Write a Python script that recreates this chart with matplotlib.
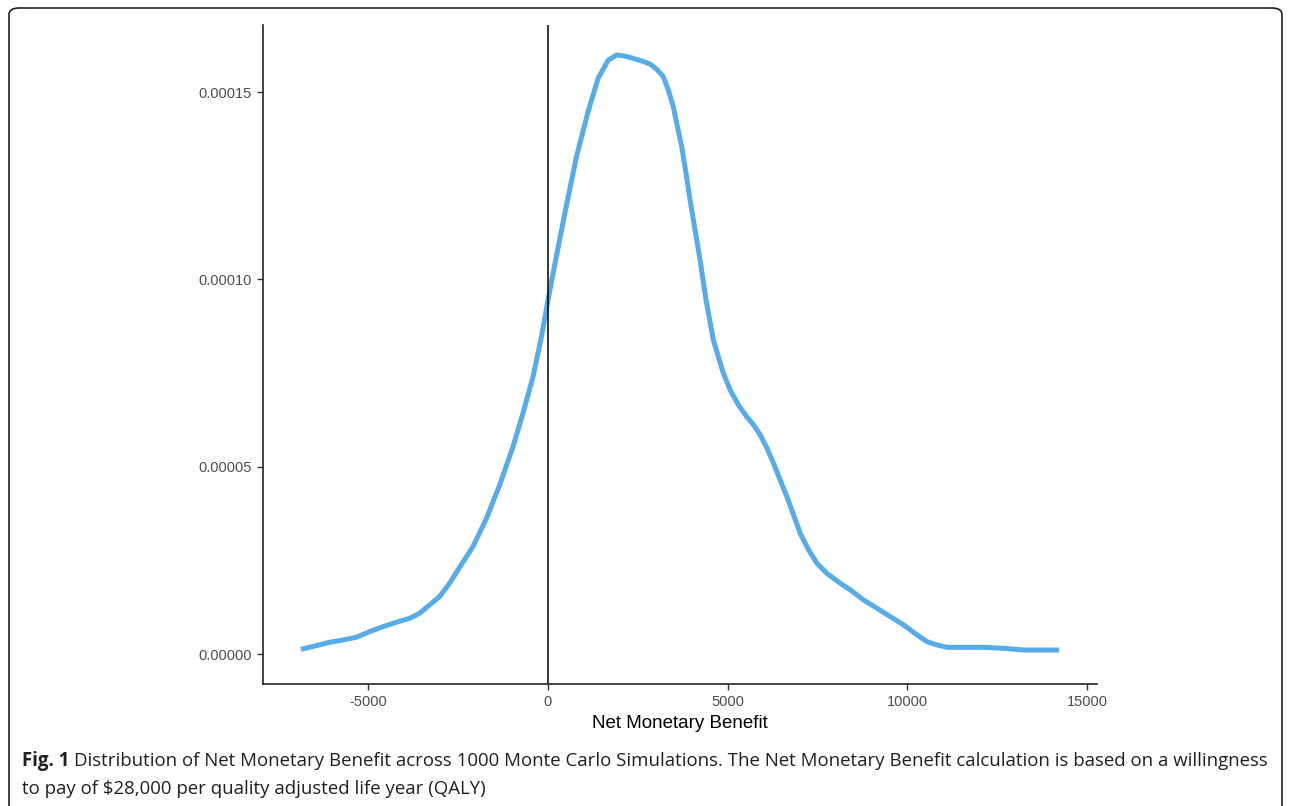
import matplotlib
matplotlib.use("Agg")
import matplotlib.pyplot as plt
from matplotlib.patches import FancyBboxPatch

# Data (density of Net Monetary Benefit)
nmb = [-6861, -6443, -6072, -5702, -5329, -4958, -4588, -4214, -3844, -3565,
       -3287, -3008, -2730, -2451, -2081, -1708, -1337, -967, -688, -409,
       -175, 8, 148, 474, 800, 1123, 1401, 1680, 1914, 2145, 2376, 2610,
       2841, 3028, 3212, 3351, 3490, 3585, 3724, 3844, 3955, 4095, 4234,
       4400, 4604, 4883, 5070, 5301, 5535, 5719, 5905, 6092, 6276, 6462,
       6649, 6833, 7019, 7251, 7485, 7763, 8134, 8412, 8783, 9156, 9527,
       9897, 10270, 10549, 10827, 11106, 11569, 12125, 12683, 13240, 14214]
density_e5 = [0.125, 0.222, 0.312, 0.374, 0.446, 0.595, 0.729, 0.846, 0.953,
              1.087, 1.308, 1.53, 1.887, 2.315, 2.865, 3.61, 4.51, 5.53,
              6.43, 7.40, 8.47, 9.45, 10.16, 11.76, 13.28, 14.48, 15.37,
              15.85, 15.99, 15.96, 15.90, 15.83, 15.75, 15.61, 15.41, 15.06,
              14.61, 14.17, 13.54, 12.83, 12.12, 11.32, 10.52, 9.45, 8.38,
              7.49, 7.05, 6.65, 6.33, 6.12, 5.85, 5.50, 5.09, 4.645, 4.20,
              3.71, 3.22, 2.78, 2.42, 2.15, 1.887, 1.71, 1.44, 1.22, 0.996,
              0.774, 0.507, 0.328, 0.24, 0.179, 0.179, 0.179, 0.152, 0.107,
              0.107]
density = [v * 1e-5 for v in density_e5]

x_ticks = [-5000, 0, 5000, 10000, 15000]
x_tick_labels = ["-5000", "0", "5000", "10000", "15000"]
y_ticks = [0.0, 0.00005, 0.00010, 0.00015]
y_tick_labels = ["0.00000", "0.00005", "0.00010", "0.00015"]

W, H = 1290, 806
fig = plt.figure(figsize=(W / 100, H / 100), dpi=100)
fig.patch.set_facecolor("white")

ax = fig.add_axes([263 / W, (H - 684) / H, (1097 - 263) / W, (684 - 25) / H])
ax.plot(nmb, density, color="#56ACEA", lw=3.6, solid_capstyle="butt",
        solid_joinstyle="round")
ax.axvline(0, color="black", lw=1.1)

rng = max(nmb) - min(nmb)
ax.set_xlim(min(nmb) - 0.05 * rng, max(nmb) + 0.05 * rng)
ymax = max(density)
ax.set_ylim(-0.05 * ymax, 1.05 * ymax)

ax.set_xticks(x_ticks)
ax.set_xticklabels(x_tick_labels)
ax.set_yticks(y_ticks)
ax.set_yticklabels(y_tick_labels)
for lab in ax.get_xticklabels() + ax.get_yticklabels():
    lab.set_family("Liberation Sans")
    lab.set_fontsize(10.5)
    lab.set_color("#4D4D4D")
ax.tick_params(axis="both", length=4, width=1.0, color="#333333", pad=4)
ax.set_xlabel("Net Monetary Benefit", family="Liberation Sans", fontsize=13.5,
              color="black", labelpad=4)
for side in ("top", "right"):
    ax.spines[side].set_visible(False)
for side in ("left", "bottom"):
    ax.spines[side].set_color("#222222")
    ax.spines[side].set_linewidth(1.2)

# Outer rounded frame
frame = FancyBboxPatch((9 / W, -10 / H), (1282 - 9) / W, (H - 8 + 10) / H,
                       boxstyle="round,pad=0,rounding_size=0.008",
                       transform=fig.transFigure, fill=False,
                       edgecolor="#231F20", lw=1.2, clip_on=False)
fig.add_artist(frame)

# Caption
cap_color = "#231F20"
cap_size = 13.4
x0 = 22 / W
y1 = 1 - 761 / H
y2 = 1 - 789 / H
t_bold = fig.text(x0, y1, "Fig. 1", family="Open Sans", weight="bold",
                  fontsize=cap_size, color=cap_color, va="center")
fig.canvas.draw()
bb = t_bold.get_window_extent(renderer=fig.canvas.get_renderer())
fig.text(bb.x1 / W + 5 / W, y1,
         "Distribution of Net Monetary Benefit across 1000 Monte Carlo Simulations. "
         "The Net Monetary Benefit calculation is based on a willingness",
         family="Open Sans", fontsize=cap_size, color=cap_color, va="center")
fig.text(x0, y2, "to pay of $28,000 per quality adjusted life year (QALY)",
         family="Open Sans", fontsize=cap_size, color=cap_color, va="center")

fig.savefig("out.png", dpi=100)
